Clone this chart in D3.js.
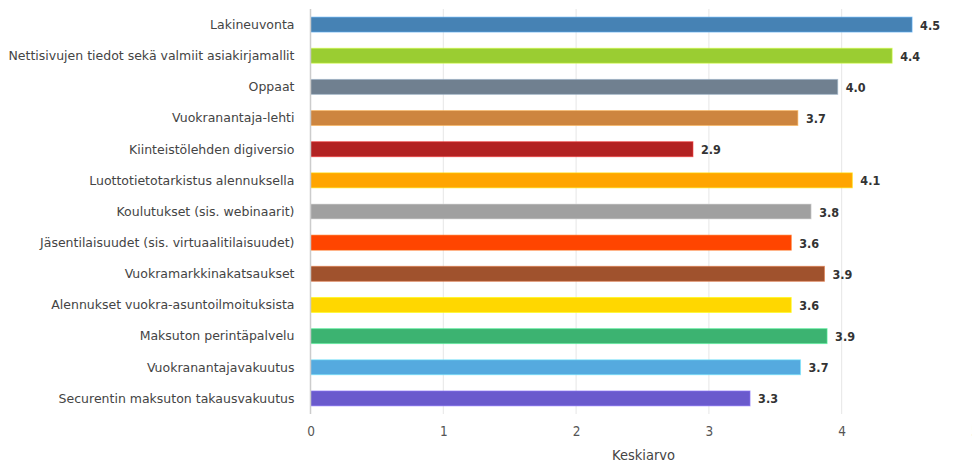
<!DOCTYPE html>
<html lang="fi">
<head>
    <meta charset="UTF-8">
    <title>Keskiarvo</title>
    <style>
        body { margin: 0; background: #fff; }
        svg text { font-family: "DejaVu Sans Condensed", "DejaVu Sans", sans-serif; }
        .cat-label { font-family: "DejaVu Sans", sans-serif; font-size: 12.5px; fill: #444; }
        .tick text { font-size: 13.5px; fill: #555; }
        .value-label { font-size: 12.5px; font-weight: bold; fill: #333; }
        .axis-title { font-size: 14.5px; fill: #444; }
    </style>
</head>
<body>
    <svg width="972" height="466"></svg>

    <script src="https://d3js.org/d3.v7.min.js"></script>
    <script>

        const categories = [
            'Lakineuvonta',
            'Nettisivujen tiedot sekä valmiit asiakirjamallit',
            'Oppaat',
            'Vuokranantaja-lehti',
            'Kiinteistölehden digiversio',
            'Luottotietotarkistus alennuksella',
            'Koulutukset (sis. webinaarit)',
            'Jäsentilaisuudet (sis. virtuaalitilaisuudet)',
            'Vuokramarkkinakatsaukset',
            'Alennukset vuokra-asuntoilmoituksista',
            'Maksuton perintäpalvelu',
            'Vuokranantajavakuutus',
            'Securentin maksuton takausvakuutus'
        ];

        const values = [4.53, 4.38, 3.97, 3.67, 2.88, 4.08, 3.77, 3.62, 3.87, 3.62, 3.89, 3.69, 3.31];

        const colors = [
            '#4682b4', '#9acd32', '#708090', '#cd853f', '#b22222', '#ffa500', '#a0a0a0',
            '#ff4500', '#a0522d', '#ffd700', '#3cb371', '#55aadf', '#6a5acd'
        ];

        const xTicks = [0, 1, 2, 3, 4, 5];
        const xLabel = 'Keskiarvo';

        const margin = { left: 310.5, right: 0, top: 9, bottom: 52 };

        const svg = d3.select('svg');
        const width = +svg.attr('width');
        const height = +svg.attr('height');
        const innerHeight = height - margin.top - margin.bottom;

        // 5 lands right at the window edge, like in the original screenshot
        const xScale = d3.scaleLinear()
            .domain([0, 5])
            .range([0, 664]);

        const yScale = d3.scaleBand()
            .domain(categories)
            .range([0, innerHeight])
            .paddingInner(0.52)
            .paddingOuter(0.26);

        const group = svg.append('g')
            .attr('transform', 'translate(' + margin.left + ' ' + margin.top + ')');

        // vertical grid lines
        group.append('g')
            .selectAll('line')
            .data(xTicks.slice(1))
            .enter()
            .append('line')
            .attr('x1', d => xScale(d))
            .attr('x2', d => xScale(d))
            .attr('y1', 0)
            .attr('y2', innerHeight)
            .attr('stroke', '#e6e6e6')
            .attr('stroke-width', 1);

        // x axis (ticks only, no domain line)
        const xAxisG = group.append('g')
            .attr('transform', 'translate(0 ' + innerHeight + ')')
            .call(d3.axisBottom(xScale).tickValues(xTicks).tickFormat(d3.format('d')).tickSize(0).tickPadding(12));
        xAxisG.select('.domain').remove();

        xAxisG.append('text')
            .attr('class', 'axis-title')
            .attr('x', 333)
            .attr('y', 46)
            .style('text-anchor', 'middle')
            .text(xLabel);

        // bars
        group.selectAll('rect.bar')
            .data(values)
            .enter()
            .append('rect')
            .attr('class', 'bar')
            .attr('x', 0)
            .attr('y', (d, i) => yScale(categories[i]))
            .attr('width', d => xScale(d))
            .attr('height', yScale.bandwidth())
            .attr('fill', (d, i) => colors[i])
            .attr('stroke', (d, i) => d3.color(colors[i]).brighter(0.9))
            .attr('stroke-opacity', 0.6)
            .attr('stroke-width', 1);

        // value labels
        group.selectAll('text.value-label')
            .data(values)
            .enter()
            .append('text')
            .attr('class', 'value-label')
            .attr('x', d => xScale(d) + 8)
            .attr('y', (d, i) => yScale(categories[i]) + yScale.bandwidth() / 2)
            .attr('dy', '0.4em')
            .text(d => d.toFixed(1));

        // category labels
        group.selectAll('text.cat-label')
            .data(categories)
            .enter()
            .append('text')
            .attr('class', 'cat-label')
            .attr('x', -16)
            .attr('y', d => yScale(d) + yScale.bandwidth() / 2)
            .attr('dy', '0.35em')
            .style('text-anchor', 'end')
            .text(d => d);

        // left axis line
        group.append('line')
            .attr('x1', 0)
            .attr('x2', 0)
            .attr('y1', 0)
            .attr('y2', innerHeight)
            .attr('stroke', '#cccccc')
            .attr('stroke-width', 1.5);

    </script>
</body>
</html>
